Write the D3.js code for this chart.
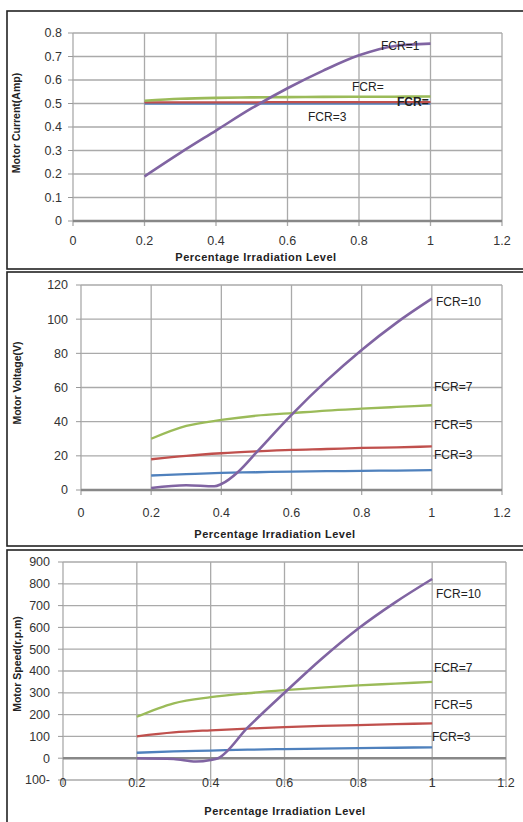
<!DOCTYPE html>
<html><head><meta charset="utf-8">
<script src="https://cdn.jsdelivr.net/npm/d3@7"></script>
<style>body{margin:0;background:#fff}svg{display:block}text{font-family:"Liberation Sans",Arial,sans-serif}</style>
</head><body><svg id="c" width="523" height="822"></svg>
<script>
// ---------- DATA ----------
const xTicks = [0, 0.2, 0.4, 0.6, 0.8, 1, 1.2];
const xTickLabels = ["0", "0.2", "0.4", "0.6", "0.8", "1", "1.2"];

// Panel 1: Motor Current
const curX = [0.2, 0.3, 0.4, 0.5, 0.6, 0.7, 0.8, 0.9, 1.0];
const curBlue   = [0.500, 0.500, 0.500, 0.500, 0.500, 0.500, 0.500, 0.500, 0.500];
const curRed    = [0.505, 0.505, 0.505, 0.505, 0.506, 0.506, 0.506, 0.506, 0.506];
const curGreen  = [0.512, 0.520, 0.524, 0.526, 0.527, 0.528, 0.529, 0.529, 0.530];
const curPurpleX = [0.2, 0.3, 0.4, 0.5, 0.6, 0.7, 0.8, 0.9, 1.0];
const curPurple = [0.19, 0.29, 0.385, 0.48, 0.565, 0.64, 0.705, 0.745, 0.755];
const curYTicks = [0, 0.1, 0.2, 0.3, 0.4, 0.5, 0.6, 0.7, 0.8];
const curYLabels = ["0", "0.1", "0.2", "0.3", "0.4", "0.5", "0.6", "0.7", "0.8"];

// Panel 2: Motor Voltage
const volX = [0.2, 0.3, 0.4, 0.5, 0.6, 0.7, 0.8, 0.9, 1.0];
const volBlue   = [8.5, 9.3, 10.0, 10.4, 10.8, 11.0, 11.2, 11.4, 11.6];
const volRed    = [18, 20, 21.5, 22.6, 23.5, 24.0, 24.6, 25.0, 25.5];
const volGreen  = [30, 37.5, 41, 43.5, 45, 46.5, 47.6, 48.6, 49.6];
const volPurpleX = [0.2, 0.3, 0.38, 0.4, 0.45, 0.5, 0.6, 0.7, 0.8, 0.9, 1.0];
const volPurple = [1.2, 2.8, 2.2, 3.5, 11, 22, 44, 64, 82, 98, 112];
const volYTicks = [0, 20, 40, 60, 80, 100, 120];
const volYLabels = ["0", "20", "40", "60", "80", "100", "120"];

// Panel 3: Motor Speed
const spdX = [0.2, 0.3, 0.4, 0.5, 0.6, 0.7, 0.8, 0.9, 1.0];
const spdBlue   = [25, 31, 35, 39, 42, 44, 46, 48, 50];
const spdRed    = [100, 118, 128, 136, 143, 148, 152, 156, 160];
const spdGreen  = [190, 252, 280, 298, 312, 324, 334, 342, 350];
const spdPurpleX = [0.2, 0.3, 0.36, 0.4, 0.42, 0.5, 0.6, 0.7, 0.8, 0.9, 1.0];
const spdPurple = [0, -4, -15, -8, 0, 140, 300, 455, 595, 715, 822];
const spdYTicks = [-100, 0, 100, 200, 300, 400, 500, 600, 700, 800, 900];
const spdYLabels = ["100-", "0", "100", "200", "300", "400", "500", "600", "700", "800", "900"];

const seriesColors = {blue: "#4F81BD", red: "#C0504D", green: "#9BBB59", purple: "#8064A2"};

// ---------- DRAW ----------
const svg = d3.select("#c");

function panel(o) {
  const g = svg.append("g");
  g.append("rect").attr("x", 7).attr("y", o.frame[0]).attr("width", 530).attr("height", o.frame[1] - o.frame[0])
    .attr("fill", "none").attr("stroke", "#222").attr("stroke-width", 1.6);
  const x = d3.scaleLinear().domain([0, 1.2]).range(o.xr);
  const y = d3.scaleLinear().domain(o.yd).range(o.yr);
  g.selectAll(".hg").data(o.yTicks).join("line")
    .attr("x1", x(0)).attr("x2", x(1.2)).attr("y1", d => y(d)).attr("y2", d => y(d))
    .attr("stroke", "#aaa").attr("stroke-width", 1.3);
  g.selectAll(".vg").data(xTicks).join("line")
    .attr("x1", d => x(d)).attr("x2", d => x(d)).attr("y1", y(o.yd[1])).attr("y2", y(o.yd[0]) + 5)
    .attr("stroke", "#aaa").attr("stroke-width", 1.3);
  g.selectAll(".yt").data(o.yTicks).join("line")
    .attr("x1", x(0) - 5).attr("x2", x(0)).attr("y1", d => y(d)).attr("y2", d => y(d))
    .attr("stroke", "#999").attr("stroke-width", 1);
  g.append("line").attr("x1", x(0)).attr("x2", x(1.2)).attr("y1", y(0)).attr("y2", y(0))
    .attr("stroke", "#888").attr("stroke-width", 2.4);
  g.selectAll(".yl").data(o.yTicks).join("text")
    .attr("x", o.yLabelX).attr("y", d => y(d)).attr("dy", "0.35em").attr("text-anchor", "end")
    .attr("font-size", 12.5).attr("fill", "#333").text((d, i) => o.yLabels[i]);
  g.selectAll(".xl").data(xTicks).join("text")
    .attr("x", d => x(d)).attr("y", o.xLabelY).attr("dy", "0.35em").attr("text-anchor", "middle")
    .attr("font-size", 12.5).attr("fill", "#333").text((d, i) => xTickLabels[i]);
  g.append("text").attr("x", o.xTitle[0]).attr("y", o.xTitle[1]).attr("text-anchor", "middle")
    .attr("font-size", 11).attr("font-weight", "bold").attr("letter-spacing", 0.5).attr("fill", "#222")
    .text("Percentage  Irradiation  Level");
  g.append("text").attr("transform", `translate(${o.yTitle[0]},${o.yTitle[1]}) rotate(-90)`)
    .attr("text-anchor", "middle").attr("font-size", o.yTitleSize || 10.5).attr("font-weight", "bold")
    .attr("fill", "#222").text(o.yTitleText);
  const line = d3.line().x(d => x(d[0])).y(d => y(d[1])).curve(d3.curveMonotoneX);
  o.series.forEach(s => {
    const pts = s.xs.map((xv, i) => [xv, s.ys[i]]);
    g.append("path").attr("d", line(pts)).attr("fill", "none")
      .attr("stroke", seriesColors[s.c]).attr("stroke-width", s.w || 2.3).attr("stroke-linejoin", "round");
  });
  o.labels.forEach(l => {
    g.append("text").attr("x", l[0]).attr("y", l[1]).attr("dy", "0.35em").attr("font-size", l[3] || 12)
      .attr("fill", "#222").attr("font-weight", l[4] || "normal").text(l[2]);
  });
}

panel({
  frame: [11, 269], xr: [73, 502], yd: [0, 0.8], yr: [221, 33],
  yTicks: curYTicks, yLabels: curYLabels, yLabelX: 62, xLabelY: 241,
  xTitle: [256, 261], yTitle: [20, 123], yTitleText: "Motor Current(Amp)",
  series: [
    {xs: curX, ys: curBlue, c: "blue"},
    {xs: curX, ys: curRed, c: "red"},
    {xs: curX, ys: curGreen, c: "green", w: 2.6},
    {xs: curPurpleX, ys: curPurple, c: "purple", w: 2.6}
  ],
  labels: [[381, 46, "FCR=1"], [352, 87, "FCR="], [397, 102, "FCR=", 12, "bold"], [308, 117, "FCR=3"]]
});

panel({
  frame: [272, 546], xr: [81, 502], yd: [0, 120], yr: [490, 285],
  yTicks: volYTicks, yLabels: volYLabels, yLabelX: 68, xLabelY: 513,
  xTitle: [275, 538], yTitle: [21, 383], yTitleText: "Motor Voltage(V)",
  series: [
    {xs: volX, ys: volBlue, c: "blue"},
    {xs: volX, ys: volRed, c: "red"},
    {xs: volX, ys: volGreen, c: "green"},
    {xs: volPurpleX, ys: volPurple, c: "purple", w: 2.6}
  ],
  labels: [[436, 302, "FCR=10"], [434, 387, "FCR=7"], [434, 425, "FCR=5"], [434, 455, "FCR=3"]]
});

panel({
  frame: [550, 826], xr: [63, 506], yd: [-100, 900], yr: [780, 562],
  yTicks: spdYTicks, yLabels: spdYLabels, yLabelX: 50, xLabelY: 783,
  xTitle: [285, 815], yTitle: [21, 664], yTitleText: "Motor Speed(r.p.m)",
  series: [
    {xs: spdX, ys: spdBlue, c: "blue"},
    {xs: spdX, ys: spdRed, c: "red"},
    {xs: spdX, ys: spdGreen, c: "green"},
    {xs: spdPurpleX, ys: spdPurple, c: "purple", w: 2.6}
  ],
  labels: [[436, 594, "FCR=10"], [434, 668, "FCR=7"], [434, 705, "FCR=5"], [432, 737, "FCR=3"]]
});
</script></body></html>
